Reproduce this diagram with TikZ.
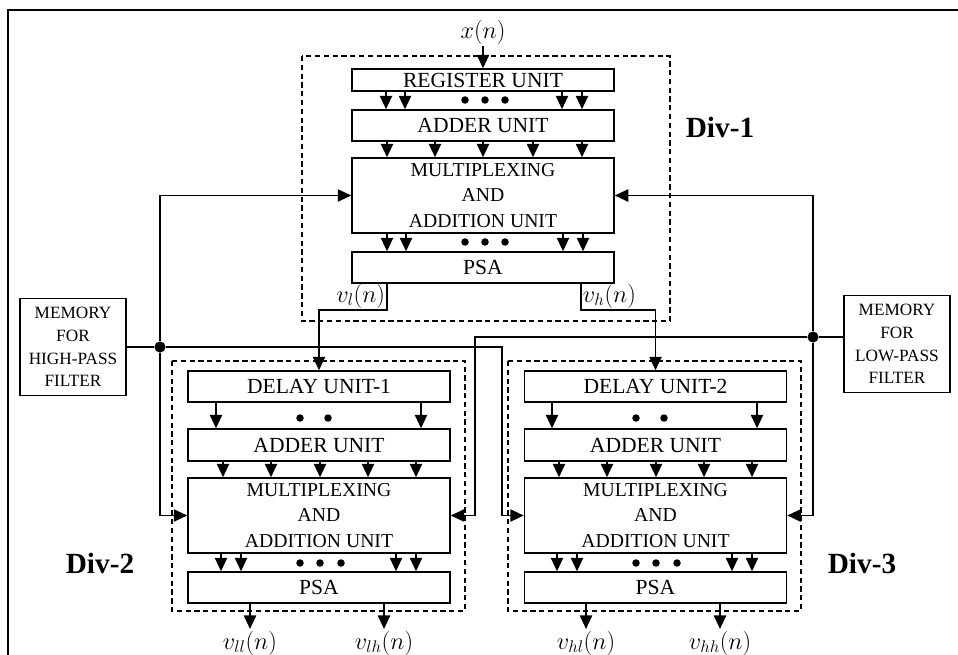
\documentclass[tikz,border=0pt]{standalone}
\usepackage{amsmath}
\usepackage{fontspec}
\setmainfont{Liberation Serif}
\usetikzlibrary{arrows.meta,positioning}

\begin{document}
\begin{tikzpicture}[x=0.03cm,y=-0.03cm,line width=1.3pt,
    unit/.style={draw,minimum width=7.86cm,inner sep=0pt,font=\fontsize{18.4}{22}\selectfont},
    muxunit/.style={unit,minimum height=2.25cm,align=center,font=\fontsize{16.8}{21.7}\selectfont},
    mem/.style={draw,minimum width=3.18cm,minimum height=2.91cm,align=center,inner sep=0pt,
      font=\fontsize{14.7}{19.5}\selectfont},
    sig/.style={font=\fontsize{21}{24}\selectfont,inner sep=1pt},
    divlbl/.style={font=\fontsize{25}{28}\selectfont\bfseries},
    divbox/.style={line width=1.1pt,dash pattern=on 4.5pt off 3pt},
    jdot/.style={circle,fill,inner sep=0pt,minimum size=9.5pt},
    arr/.style={-{Triangle[length=11.5pt,width=10.5pt]}}]
    \useasboundingbox (0,0) rectangle (958,655);
    \draw[line width=1.6pt] (958,10) -- (8,10) -- (8,655);

    % Div-1
    \node[sig] (xin) at (483,32) {$x(n)$};
    \node[unit,minimum height=0.66cm] (reg) at (483,80) {REGISTER UNIT};
    \node[unit,minimum height=0.93cm] (add1) at (483,125.5) {ADDER UNIT};
    \node[muxunit] (mux1) at (483,195.5) {MULTIPLEXING\\AND\\ADDITION UNIT};
    \node[unit,minimum height=0.93cm] (psa1) at (483,267.5) {PSA};
    \draw[divbox] (302,56) rectangle (670,321);
    \node[divlbl] (div1) at (720,127) {Div-1};

    \draw[arr] (xin) -- (reg);
    \foreach \x in {386,405,562,582} \draw[arr] (reg.south -| \x,0) -- (add1.north -| \x,0);
    \foreach \x in {465,485,505} \fill (\x,100) circle (3.2pt);
    \foreach \x in {387,435,483,533,582} \draw[arr] (add1.south -| \x,0) -- (mux1.north -| \x,0);
    \foreach \x in {387,406,563,583} \draw[arr] (mux1.south -| \x,0) -- (psa1.north -| \x,0);
    \foreach \x in {465,485,505} \fill (\x,242) circle (3.2pt);

    % Div-2 and Div-3
    \foreach \d/\lx/\cx/\k/\a/\b in {2/188/319/1/ll/lh, 3/524/655.5/2/hl/hh} {
      \node[unit,minimum height=0.93cm] (dly\d) at (\cx,386.5) {DELAY UNIT-\k};
      \node[unit,minimum height=0.96cm] (add\d) at (\cx,445) {ADDER UNIT};
      \node[muxunit] (mux\d) at (\cx,515.5) {MULTIPLEXING\\AND\\ADDITION UNIT};
      \node[unit,minimum height=0.93cm] (psa\d) at (\cx,587.5) {PSA};
      \draw[divbox] (\lx-16,361) rectangle (\lx+277,611);
      \foreach \o in {28,233} \draw[arr] (dly\d.south -| \lx+\o,0) -- (add\d.north -| \lx+\o,0);
      \foreach \o in {112,140} \fill (\lx+\o,418) circle (3.2pt);
      \foreach \o in {35,83,132,180,228} \draw[arr] (add\d.south -| \lx+\o,0) -- (mux\d.north -| \lx+\o,0);
      \foreach \o in {33,53,208,228} \draw[arr] (mux\d.south -| \lx+\o,0) -- (psa\d.north -| \lx+\o,0);
      \foreach \o in {112,132,153} \fill (\lx+\o,563) circle (3.2pt);
      \node[sig] (v\a) at (\lx+62,643) {$v_{\a}(n)$};
      \node[sig] (v\b) at (\lx+196,643) {$v_{\b}(n)$};
      \draw[arr] (psa\d.south -| v\a) -- (v\a);
      \draw[arr] (psa\d.south -| v\b) -- (v\b);
    }
    \node[divlbl] (div2) at (100,563) {Div-2};
    \node[divlbl] (div3) at (862,563) {Div-3};

    % PSA outputs of Div-1
    \coordinate (lturn) at (387,310);
    \coordinate (hturn) at (581,310);
    \draw[arr] (psa1.south -| lturn) -- (lturn) -| (dly2.north);
    \draw[arr] (psa1.south -| hturn) -- (hturn) -| (dly3.north);
    \node[sig,anchor=south east] (vl) at (lturn) {$v_l(n)$};
    \node[sig,anchor=south west] (vh) at (hturn) {$v_h(n)$};

    % memories
    \node[mem] (hpmem) at (73,347) {MEMORY\\FOR\\HIGH-PASS\\FILTER};
    \node[mem] (lpmem) at (897,344) {MEMORY\\FOR\\LOW-PASS\\FILTER};
    \node[jdot] (hpj) at (160,347) {};
    \node[jdot] (lpj) at (813,337) {};
    \draw (hpmem) -- (hpj);
    \draw (lpmem.west |- lpj) -- (lpj);
    \draw[arr] (hpj) |- (mux1.west);
    \draw[arr] (hpj) |- (mux2.west);
    \draw[arr] (hpj) -- (502,347) |- (mux3.west);
    \draw[arr] (lpj) |- (mux1.east);
    \draw[arr] (lpj) |- (mux3.east);
    \draw[arr] (lpj) -- (475,337) |- (mux2.east);
  \end{tikzpicture}
\end{document}
